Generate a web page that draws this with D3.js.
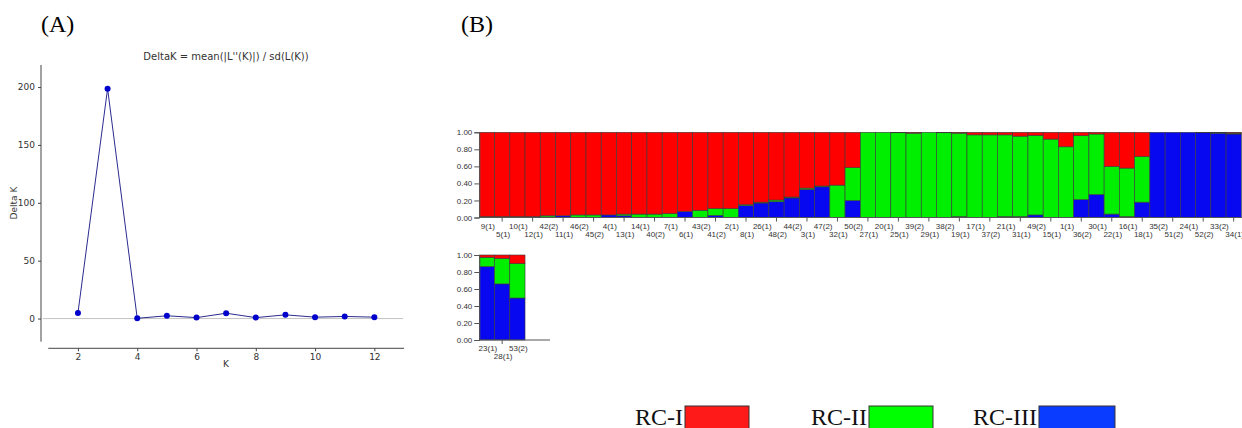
<!DOCTYPE html>
<html>
<head>
<meta charset="utf-8">
<script src="https://cdn.jsdelivr.net/npm/d3@7"></script>
<style>
  body { margin: 0; background: #fff; }
  svg { display: block; }
</style>
</head>
<body>
<div id="chart"></div>
<script>
// Panel A: Evanno DeltaK by K
var kValues = [2, 3, 4, 5, 6, 7, 8, 9, 10, 11, 12];
var deltaK = [4.8, 198.6, 0.2, 2.4, 0.8, 4.6, 0.8, 3.2, 1.2, 1.8, 1.2];
var deltaTicks = [0, 50, 100, 150, 200];
var kTicks = [2, 4, 6, 8, 10, 12];

// Panel B: membership proportions (top row)
var topLabels = ['9(1)', '5(1)', '10(1)', '12(1)', '42(2)', '11(1)', '46(2)', '45(2)', '4(1)', '13(1)',
  '14(1)', '40(2)', '7(1)', '6(1)', '43(2)', '41(2)', '2(1)', '8(1)', '26(1)', '48(2)',
  '44(2)', '3(1)', '47(2)', '32(1)', '50(2)', '27(1)', '20(1)', '25(1)', '39(2)', '29(1)',
  '38(2)', '19(1)', '17(1)', '37(2)', '21(1)', '31(1)', '49(2)', '15(1)', '1(1)', '36(2)',
  '30(1)', '22(1)', '16(1)', '18(1)', '35(2)', '51(2)', '24(1)', '52(2)', '33(2)', '34(1)'];
var topRC3 = [0, 0, 0, 0.01, 0.005, 0.02, 0, 0, 0.03, 0.02,
  0, 0, 0, 0.07, 0, 0.025, 0, 0.14, 0.17, 0.185,
  0.23, 0.33, 0.36, 0, 0.2, 0, 0, 0, 0, 0,
  0, 0.01, 0, 0, 0.01, 0.01, 0.03, 0, 0, 0.21,
  0.27, 0.04, 0.01, 0.18, 1, 1, 1, 0.995, 0.99, 0.98];
var topRC2 = [0.01, 0.01, 0.01, 0, 0.015, 0, 0.03, 0.03, 0, 0.02,
  0.04, 0.04, 0.045, 0, 0.085, 0.08, 0.105, 0.01, 0.01, 0.02,
  0.01, 0.015, 0.01, 0.38, 0.385, 1, 1, 0.995, 0.99, 1,
  0.995, 0.98, 0.97, 0.97, 0.96, 0.945, 0.935, 0.92, 0.83, 0.75,
  0.71, 0.56, 0.57, 0.535, 0, 0, 0, 0, 0.005, 0.01];
var topRC1 = [0.99, 0.99, 0.99, 0.99, 0.98, 0.98, 0.97, 0.97, 0.97, 0.96,
  0.96, 0.96, 0.955, 0.93, 0.915, 0.895, 0.895, 0.85, 0.82, 0.795,
  0.76, 0.655, 0.63, 0.62, 0.415, 0, 0, 0.005, 0.01, 0,
  0.005, 0.01, 0.03, 0.03, 0.03, 0.045, 0.035, 0.08, 0.17, 0.04,
  0.02, 0.40, 0.42, 0.285, 0, 0, 0, 0.005, 0.005, 0.01];

// Panel B: second row
var botLabels = ['23(1)', '28(1)', '53(2)'];
var botRC3 = [0.863, 0.66, 0.494];
var botRC2 = [0.11, 0.30, 0.406];
var botRC1 = [0.027, 0.04, 0.10];

var yTicksB = [0, 0.2, 0.4, 0.6, 0.8, 1.0];
var legendNames = ['RC-I', 'RC-II', 'RC-III'];

var colRed = '#ff0000', colGreen = '#00ee00', colBlue = '#0808f0';
var legendColors = ['#ff1a1a', '#00ff00', '#0a3cff'];

var svg = d3.select('#chart').append('svg')
  .attr('width', 1242)
  .attr('height', 428)
  .style('overflow', 'hidden');

// panel letters
svg.append('text').attr('x', 41).attr('y', 31.5)
  .style('font-family', 'Liberation Serif').style('font-size', '24px').text('(A)');
svg.append('text').attr('x', 461).attr('y', 31.5)
  .style('font-family', 'Liberation Serif').style('font-size', '24px').text('(B)');

// ---------------- Panel A ----------------
var xA = d3.scaleLinear().domain([1, 13]).range([48.3, 404]);
var yA = d3.scaleLinear().domain([-20, 220]).range([341.7, 63.9]);
var gA = svg.append('g').style('font-family', 'DejaVu Sans');

gA.append('text')
  .attr('x', 226).attr('y', 59.5)
  .attr('text-anchor', 'middle')
  .style('font-size', '10px').style('fill', '#333')
  .text("DeltaK = mean(|L''(K)|) / sd(L(K))");

// zero reference line
gA.append('line')
  .attr('x1', 43).attr('x2', 403)
  .attr('y1', yA(0)).attr('y2', yA(0))
  .attr('stroke', '#c4c4c4').attr('stroke-width', 1);

var yAxisA = gA.append('g')
  .attr('transform', 'translate(41,0)')
  .call(d3.axisLeft(yA).tickValues(deltaTicks).tickSize(3).tickPadding(3));
yAxisA.select('.domain').remove();
gA.append('line').attr('x1', 41).attr('x2', 41).attr('y1', 65).attr('y2', 341.7)
  .attr('stroke', '#444').attr('stroke-width', 1);

var xAxisA = gA.append('g')
  .attr('transform', 'translate(0,348.3)')
  .call(d3.axisBottom(xA).tickValues(kTicks).tickSize(3).tickPadding(2));
xAxisA.select('.domain').remove();
gA.append('line').attr('x1', 48.3).attr('x2', 404).attr('y1', 348.3).attr('y2', 348.3)
  .attr('stroke', '#444').attr('stroke-width', 1);

gA.selectAll('.tick text').style('font-size', '9px').style('fill', '#333').style('font-family', 'DejaVu Sans');
gA.selectAll('.tick line').attr('stroke', '#444');

gA.append('text')
  .attr('transform', 'translate(17,203) rotate(-90)')
  .attr('text-anchor', 'middle')
  .style('font-size', '9px').style('fill', '#333')
  .text('Delta K');
gA.append('text')
  .attr('x', 226).attr('y', 367)
  .attr('text-anchor', 'middle')
  .style('font-size', '9px').style('fill', '#333')
  .text('K');

var lineA = d3.line()
  .x(function(d, i) { return xA(kValues[i]); })
  .y(function(d) { return yA(d); });
gA.append('path')
  .datum(deltaK)
  .attr('d', lineA)
  .attr('fill', 'none')
  .attr('stroke', '#2b2b90')
  .attr('stroke-width', 1);
gA.selectAll('circle.pt')
  .data(deltaK)
  .enter().append('circle')
  .attr('class', 'pt')
  .attr('cx', function(d, i) { return xA(kValues[i]); })
  .attr('cy', function(d) { return yA(d); })
  .attr('r', 3)
  .attr('fill', '#0000cc');

// ---------------- Panel B ----------------
var barW = 15.24;
var x0 = 479.3;

function drawStructure(labels, rc3, rc2, rc1, yTop, yBottom, axisEnd) {
  var g = svg.append('g').style('font-family', 'Liberation Sans');
  var x = d3.scaleBand().domain(labels).range([x0, x0 + labels.length * barW]).padding(0);
  var y = d3.scaleLinear().domain([0, 1]).range([yBottom, yTop]);

  var rows = labels.map(function(l, i) {
    return { label: l, parts: [
      { v0: 0, v1: rc3[i], c: colBlue },
      { v0: rc3[i], v1: rc3[i] + rc2[i], c: colGreen },
      { v0: rc3[i] + rc2[i], v1: rc3[i] + rc2[i] + rc1[i], c: colRed }
    ] };
  });

  var bars = g.selectAll('g.bar')
    .data(rows)
    .enter().append('g')
    .attr('class', 'bar');
  bars.selectAll('rect')
    .data(function(d) { return d.parts.map(function(p) { p.label = d.label; return p; }); })
    .enter().append('rect')
    .filter(function(p) { return p.v1 - p.v0 > 0; })
    .attr('x', function(p) { return x(p.label); })
    .attr('width', x.bandwidth())
    .attr('y', function(p) { return y(Math.min(p.v1, 1)); })
    .attr('height', function(p) { return y(p.v0) - y(Math.min(p.v1, 1)); })
    .attr('fill', function(p) { return p.c; })
    .attr('stroke', '#3a3a3a')
    .attr('stroke-width', 0.6);

  // y axis
  var ya = g.append('g')
    .attr('transform', 'translate(' + x0 + ',0)')
    .call(d3.axisLeft(y).tickValues(yTicksB).tickFormat(d3.format('.2f')).tickSize(5).tickPadding(2));
  ya.select('.domain').attr('stroke', '#555');
  ya.selectAll('.tick line').attr('stroke', '#555');
  ya.selectAll('.tick text').style('font-size', '8px').style('fill', '#333');

  // x axis line
  g.append('line')
    .attr('x1', x0).attr('x2', axisEnd)
    .attr('y1', yBottom).attr('y2', yBottom)
    .attr('stroke', '#555').attr('stroke-width', 1);

  // ticks for lower-row labels
  g.selectAll('line.tk')
    .data(labels.filter(function(d, i) { return i % 2 === 1; }))
    .enter().append('line')
    .attr('class', 'tk')
    .attr('x1', function(d) { return x(d) + barW / 2; })
    .attr('x2', function(d) { return x(d) + barW / 2; })
    .attr('y1', yBottom).attr('y2', yBottom + 4)
    .attr('stroke', '#555');

  g.selectAll('text.lab')
    .data(labels)
    .enter().append('text')
    .attr('class', 'lab')
    .attr('x', function(d) { return x(d) + barW / 2 + 1; })
    .attr('y', function(d, i) { return yBottom + (i % 2 === 0 ? 11 : 19); })
    .attr('text-anchor', 'middle')
    .style('font-size', '8px').style('fill', '#333')
    .text(function(d) { return d; });
}

drawStructure(topLabels, topRC3, topRC2, topRC1, 132.3, 217.5, 1242);
drawStructure(botLabels, botRC3, botRC2, botRC1, 255, 340, 550);

// legend
var legendX = [635, 811, 973];
var lg = svg.append('g').style('font-family', 'Liberation Serif');
legendNames.forEach(function(name, i) {
  var t = lg.append('text')
    .attr('x', legendX[i]).attr('y', 424.5)
    .style('font-size', '24px').style('fill', '#111')
    .text(name);
  var w = t.node().getComputedTextLength();
  lg.append('rect')
    .attr('x', legendX[i] + w + 2).attr('y', 406)
    .attr('width', i === 2 ? 76 : 64).attr('height', 26)
    .attr('fill', legendColors[i])
    .attr('stroke', '#333').attr('stroke-width', 1);
});
</script>
</body>
</html>
